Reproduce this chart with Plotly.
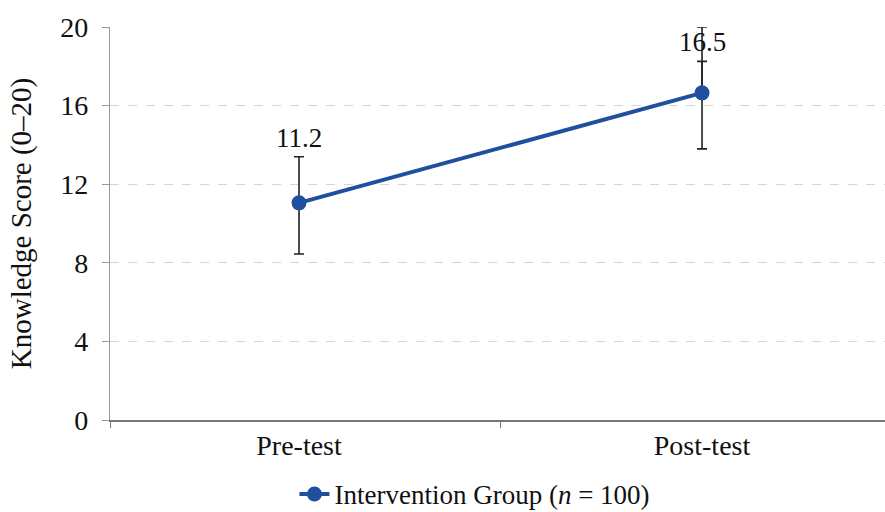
import plotly.graph_objects as go

categories = ["Pre-test", "Post-test"]
x_pos = [0, 1]
means = [11.05, 16.65]
err_plus = [2.35, 3.35]
err_minus = [2.6, 2.85]
extra_cap = [None, 1.6]          # second cap on the post-test bar
labels = ["11.2", "16.5"]
label_base = [13.4, 18.25]
series_name = "Intervention Group (<i>n</i> = 100)"

blue = "#1f4f9e"
font = "Liberation Serif, Times New Roman, serif"

fig = go.Figure()

fig.add_trace(go.Scatter(
    x=[x_pos[1]], y=[means[1]], mode="markers",
    marker=dict(size=1, color="rgba(0,0,0,0)"),
    error_y=dict(type="data", symmetric=False, array=[extra_cap[1]], arrayminus=[0],
                 color="#222", thickness=1.6, width=5),
    showlegend=False, hoverinfo="skip", cliponaxis=False,
))

fig.add_trace(go.Scatter(
    x=x_pos, y=means, mode="lines+markers", name=series_name,
    line=dict(color=blue, width=4),
    marker=dict(size=15, color=blue),
    error_y=dict(type="data", symmetric=False, array=err_plus, arrayminus=err_minus,
                 color="#222", thickness=1.6, width=5),
    cliponaxis=False,
))

for xv, yv, t in zip(x_pos, label_base, labels):
    fig.add_annotation(x=xv, y=yv, text=t, showarrow=False, yanchor="bottom",
                       yshift=2, font=dict(family=font, size=27, color="#111"))

fig.update_layout(
    width=885, height=512,
    margin=dict(l=110, r=0, t=27, b=92, autoexpand=False),
    paper_bgcolor="white", plot_bgcolor="white",
    font=dict(family=font, size=28, color="#111"),
    showlegend=True,
    legend=dict(orientation="h", x=0.238, xanchor="left",
                y=-0.127, yanchor="top",
                font=dict(family=font, size=27)),
    xaxis=dict(
        range=[-0.469, 1.454], tickmode="array", tickvals=x_pos, ticktext=categories,
        ticks="", showgrid=False, zeroline=False,
        showline=True, linecolor="#777", linewidth=1.5,
        tickfont=dict(family=font, size=28),
        minor=dict(tickmode="array", tickvals=[-0.469, 0.5], ticks="outside",
                   ticklen=6, tickcolor="#777", showgrid=False),
    ),
    yaxis=dict(
        range=[0, 20], tickvals=[0, 4, 8, 12, 16, 20], ticks="outside", ticklen=7,
        tickcolor="#999", showline=True, linecolor="#999", linewidth=1.2,
        showgrid=True, gridcolor="#d6d6d6", griddash="dash", gridwidth=1,
        zeroline=False, tickfont=dict(family=font, size=28), ticklabelstandoff=8,
        title=dict(text="Knowledge Score (0–20)", font=dict(family=font, size=29), standoff=20),
    ),
)

fig.write_html("out.html")
